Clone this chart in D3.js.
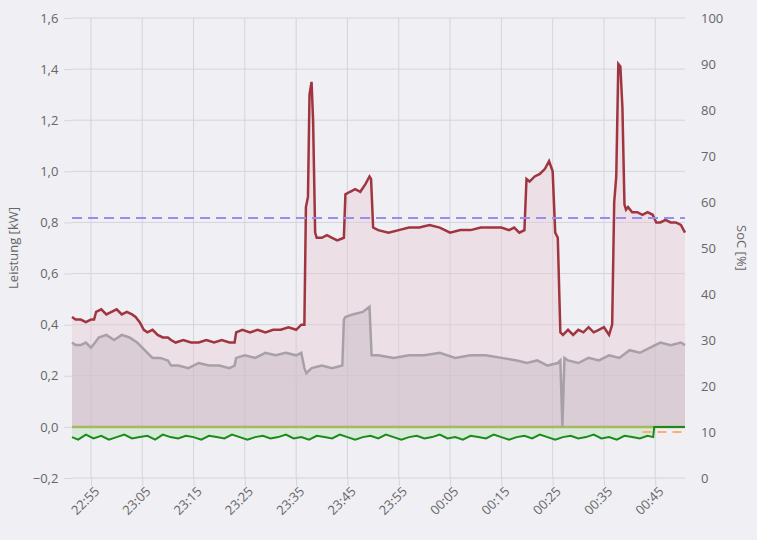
<!DOCTYPE html>
<html>
<head>
<meta charset="utf-8">
<script src="https://cdn.jsdelivr.net/npm/d3@7"></script>
<style>
  body { margin: 0; background: #efeff4; }
  text { font-family: "Open Sans", sans-serif; fill: #666; }
</style>
</head>
<body>
<svg id="chart" width="757" height="540"></svg>
<script>
// minutes after 22:51
var tickMinutes = [4, 14, 24, 34, 44, 54, 64, 74, 84, 94, 104, 114];
var tickLabels = ["22:55", "23:05", "23:15", "23:25", "23:35", "23:45", "23:55", "00:05", "00:15", "00:25", "00:35", "00:45"];
var kwTicks = [-0.2, 0, 0.2, 0.4, 0.6, 0.8, 1.0, 1.2, 1.4, 1.6];
var socTicks = [0, 10, 20, 30, 40, 50, 60, 70, 80, 90, 100];

// Verbrauch (rot)
var redT = [0.3, 1, 2, 3, 4, 4.6, 5, 6, 7, 8, 9, 10, 11, 12, 12.7, 13.5, 14.3, 15, 16, 17, 18, 19, 19.6, 20.5, 22, 23.5, 25, 26.5, 28, 29.5, 31, 32, 32.3, 33.5, 35, 36.5, 38, 39.5, 41, 42.5, 44, 45, 45.6, 45.9, 46.3, 46.6, 47, 47.3, 47.7, 48, 49, 50, 51, 52, 53.3, 53.6, 54.5, 55.5, 56.5, 57.5, 58.3, 58.6, 59, 60, 62, 64, 66, 68, 70, 72, 74, 76, 78, 80, 82, 84, 85.5, 86.5, 87.5, 88.5, 88.9, 89.5, 90.5, 91.5, 92.5, 93.3, 94, 94.5, 95, 95.5, 96, 97, 98, 99, 100, 101, 102, 103, 104, 105, 105.6, 106, 106.4, 106.8, 107.2, 107.6, 108, 108.3, 108.7, 109.5, 110.5, 111.5, 112.5, 113.5, 114.2, 115, 116, 117, 118, 119, 119.8];
var redV = [0.43, 0.42, 0.42, 0.41, 0.42, 0.42, 0.45, 0.46, 0.44, 0.45, 0.46, 0.44, 0.45, 0.44, 0.43, 0.41, 0.38, 0.37, 0.38, 0.36, 0.35, 0.35, 0.34, 0.33, 0.34, 0.33, 0.33, 0.34, 0.33, 0.34, 0.33, 0.33, 0.37, 0.38, 0.37, 0.38, 0.37, 0.38, 0.38, 0.39, 0.38, 0.40, 0.40, 0.86, 0.9, 1.3, 1.35, 1.2, 0.76, 0.74, 0.74, 0.75, 0.74, 0.73, 0.74, 0.91, 0.92, 0.93, 0.92, 0.95, 0.98, 0.97, 0.78, 0.77, 0.76, 0.77, 0.78, 0.78, 0.79, 0.78, 0.76, 0.77, 0.77, 0.78, 0.78, 0.78, 0.77, 0.78, 0.76, 0.77, 0.97, 0.96, 0.98, 0.99, 1.01, 1.04, 1.0, 0.76, 0.74, 0.37, 0.36, 0.38, 0.36, 0.38, 0.37, 0.39, 0.37, 0.38, 0.39, 0.36, 0.40, 0.88, 0.98, 1.42, 1.41, 1.25, 0.87, 0.85, 0.86, 0.84, 0.84, 0.83, 0.84, 0.83, 0.80, 0.80, 0.81, 0.80, 0.80, 0.79, 0.76];

// Netzbezug (grau)
var greyT = [0.3, 1, 2, 3, 4, 4.8, 5.5, 7, 8.5, 10, 11.5, 13, 14, 15, 16, 17.5, 19, 19.6, 21, 23, 25, 27, 29, 31, 32, 32.3, 34, 36, 38, 40, 42, 44, 45, 45.6, 46, 47, 49, 51, 53, 53.3, 53.6, 55, 57, 58.3, 58.7, 60, 63, 66, 69, 72, 75, 78, 81, 84, 87, 89, 91, 93, 95, 95.5, 95.9, 96.3, 97, 99, 101, 103, 105, 107, 109, 111, 113, 115, 117, 119, 119.8];
var greyV = [0.33, 0.32, 0.32, 0.33, 0.31, 0.33, 0.35, 0.36, 0.34, 0.36, 0.35, 0.33, 0.31, 0.29, 0.27, 0.27, 0.26, 0.24, 0.24, 0.23, 0.25, 0.24, 0.24, 0.23, 0.24, 0.27, 0.28, 0.27, 0.29, 0.28, 0.29, 0.28, 0.29, 0.23, 0.21, 0.23, 0.24, 0.23, 0.24, 0.42, 0.43, 0.44, 0.45, 0.47, 0.28, 0.28, 0.27, 0.28, 0.28, 0.29, 0.27, 0.28, 0.28, 0.27, 0.26, 0.25, 0.26, 0.24, 0.25, 0.26, 0.0, 0.27, 0.26, 0.25, 0.27, 0.26, 0.28, 0.27, 0.30, 0.29, 0.31, 0.33, 0.32, 0.33, 0.32];

// Einspeisung (grün)
var greenT = [0.3, 1.5, 3, 4.5, 6, 7.5, 9, 10.5, 12, 13.5, 15, 16.5, 18, 19.5, 21, 22.5, 24, 25.5, 27, 28.5, 30, 31.5, 33, 34.5, 36, 37.5, 39, 40.5, 42, 43.5, 45, 46.5, 48, 49.5, 51, 52.5, 54, 55.5, 57, 58.5, 60, 61.5, 63, 64.5, 66, 67.5, 69, 70.5, 72, 73.5, 75, 76.5, 78, 79.5, 81, 82.5, 84, 85.5, 87, 88.5, 90, 91.5, 93, 94.5, 96, 97.5, 99, 100.5, 102, 103.5, 105, 106.5, 108, 109.5, 111, 112.5, 113.6, 113.8, 119.8];
var greenV = [-0.04, -0.05, -0.03, -0.045, -0.035, -0.05, -0.04, -0.03, -0.045, -0.04, -0.035, -0.05, -0.03, -0.04, -0.045, -0.035, -0.04, -0.05, -0.035, -0.04, -0.045, -0.03, -0.04, -0.05, -0.04, -0.035, -0.045, -0.04, -0.03, -0.045, -0.04, -0.05, -0.035, -0.04, -0.045, -0.03, -0.04, -0.05, -0.04, -0.035, -0.045, -0.03, -0.04, -0.05, -0.04, -0.035, -0.045, -0.04, -0.03, -0.045, -0.04, -0.05, -0.035, -0.04, -0.045, -0.03, -0.04, -0.05, -0.04, -0.035, -0.045, -0.03, -0.04, -0.05, -0.04, -0.035, -0.045, -0.04, -0.03, -0.045, -0.04, -0.05, -0.035, -0.04, -0.045, -0.035, -0.04, 0.0, 0.0];

var oliveT = [0.3, 119.8];
var oliveV = [0.0, 0.0];
var socT = [0.3, 119.8];
var socV = [56.5, 56.5];
var orangeT = [111.5, 119.8];
var orangeV = [-0.02, -0.02];

var margin = { top: 18, right: 72, bottom: 62, left: 72 };
var svg = d3.select("#chart");
var width = 757 - margin.left - margin.right,
    height = 540 - margin.top - margin.bottom;
var g = svg.append("g").attr("transform", "translate(" + margin.left + "," + margin.top + ")");

var x = d3.scaleLinear().domain([0.3, 119.8]).range([0, width]);
var y = d3.scaleLinear().domain([-0.2, 1.6]).range([height, 0]);
var y2 = d3.scaleLinear().domain([0, 100]).range([height, 0]);

// grid
g.selectAll(".hg").data(kwTicks).enter().append("line")
  .attr("x1", 0).attr("x2", width)
  .attr("y1", function (d) { return y(d); }).attr("y2", function (d) { return y(d); })
  .attr("stroke", "#d4d4da");
g.selectAll(".vg").data(tickMinutes).enter().append("line")
  .attr("y1", 0).attr("y2", height)
  .attr("x1", function (d) { return x(d); }).attr("x2", function (d) { return x(d); })
  .attr("stroke", "#d4d4da");

function pts(t, v) { return t.map(function (d, i) { return [d, v[i]]; }); }
var line = d3.line().x(function (d) { return x(d[0]); }).y(function (d) { return y(d[1]); });
var area = d3.area().x(function (d) { return x(d[0]); }).y0(y(0)).y1(function (d) { return y(d[1]); });

g.append("path").attr("d", area(pts(redT, redV))).attr("fill", "#e8c8d2").attr("opacity", 0.4);
g.append("path").attr("d", area(pts(greyT, greyV))).attr("fill", "#c8b8c0").attr("opacity", 0.45);
g.append("path").attr("d", area(pts(greenT, greenV))).attr("fill", "#c8e8c8").attr("opacity", 0.6);

g.append("path").attr("d", line(pts(oliveT, oliveV))).attr("fill", "none").attr("stroke", "#a8b860").attr("stroke-width", 2.5);
g.append("path").attr("d", line(pts(greyT, greyV))).attr("fill", "none").attr("stroke", "#a8a0a8").attr("stroke-width", 2.5);
g.append("path").attr("d", line(pts(redT, redV))).attr("fill", "none").attr("stroke", "#a0353f").attr("stroke-width", 2.5);
g.append("path").attr("d", line(pts(orangeT, orangeV))).attr("fill", "none").attr("stroke", "#ffb070").attr("stroke-width", 2).attr("stroke-dasharray", "9,6");
g.append("path").attr("d", line(pts(greenT, greenV))).attr("fill", "none").attr("stroke", "#1a8a1a").attr("stroke-width", 2);
g.append("path").attr("d", d3.line().x(function (d) { return x(d[0]); }).y(function (d) { return y2(d[1]); })(pts(socT, socV)))
  .attr("fill", "none").attr("stroke", "#9a8cf5").attr("stroke-width", 2).attr("stroke-dasharray", "10,6");

// axes
var fmt = function (d) { return d3.format(".1f")(d).replace(".", ","); };
var ax = g.append("g").attr("transform", "translate(0," + height + ")")
  .call(d3.axisBottom(x).tickValues(tickMinutes).tickFormat(function (d, i) { return tickLabels[i]; }).tickSize(8));
ax.selectAll("text").attr("transform", "rotate(-45)").attr("text-anchor", "end").attr("dx", "-0.3em").attr("dy", "0.4em");
var al = g.append("g").call(d3.axisLeft(y).tickValues(kwTicks).tickFormat(fmt).tickSize(8));
var ar = g.append("g").attr("transform", "translate(" + width + ",0)").call(d3.axisRight(y2).tickValues(socTicks).tickSize(0).tickPadding(16));
[ax, al, ar].forEach(function (a) {
  a.select(".domain").remove();
  a.selectAll("line").attr("stroke", "#d4d4da");
  a.selectAll("text").style("font-size", "13px").style("fill", "#666");
});
al.selectAll("text").attr("dx", "-0.2em");

svg.append("text").attr("transform", "translate(18," + (margin.top + height / 2) + ") rotate(-90)")
  .attr("text-anchor", "middle").style("font-size", "13px").text("Leistung [kW]");
svg.append("text").attr("transform", "translate(737," + (margin.top + height / 2) + ") rotate(90)")
  .attr("text-anchor", "middle").style("font-size", "13px").text("SoC [%]");
</script>
</body>
</html>
